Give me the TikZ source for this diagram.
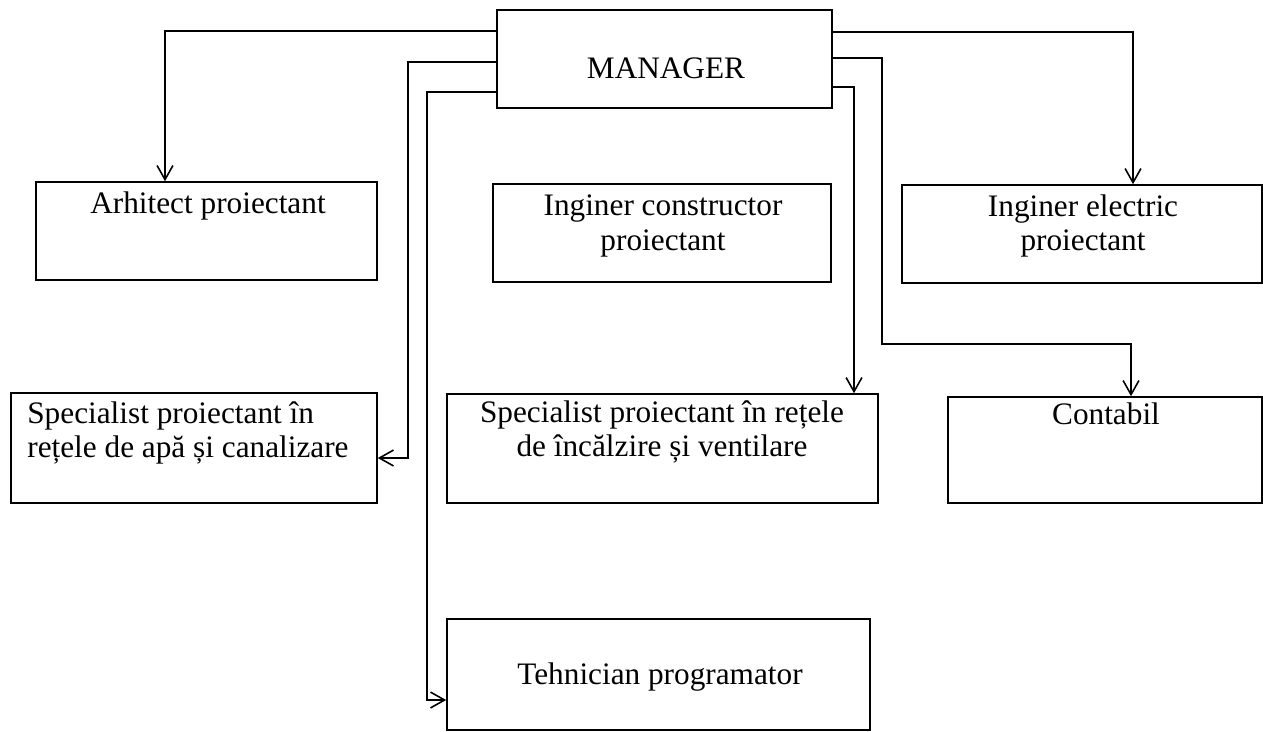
\documentclass[tikz,border=0pt]{standalone}
\usepackage{fontspec}
\setmainfont{Liberation Serif}
\usetikzlibrary{arrows.meta,fit}

\tikzset{
  post/.style={draw, rectangle, inner sep=0pt, line width=0.9pt},
  lbl/.style={inner sep=0pt, align=center, font=\fontsize{17.8}{19.8}\selectfont},
  link/.style={line width=0.9pt, ->},
  >={Straight Barb[length=8pt,width=9pt]}
}

\begin{document}
\begin{tikzpicture}[x=0.02cm, y=-0.02cm]
        \useasboundingbox (0,0) rectangle (1263,731);
        % boxes
        \node[post, fit={(497,10) (832,108)}] (mgr) {};
        \node[post, fit={(36,182) (377,280)}] (arh) {};
        \node[post, fit={(493,184) (831,282)}] (con) {};
        \node[post, fit={(902,185) (1262,283)}] (ele) {};
        \node[post, fit={(11,393) (377,503)}] (apa) {};
        \node[post, fit={(447,394) (878,503)}] (inc) {};
        \node[post, fit={(948,397) (1262,503)}] (cont) {};
        \node[post, fit={(447,619) (870,730)}] (teh) {};
        % texts
        \node[lbl] (mgrT) at (666,68) {MANAGER};
        \node[lbl] (arhT) at (208,206) {Arhitect proiectant};
        \node[lbl] (conT) at (663,226) {Inginer constructor\\proiectant};
        \node[lbl] (eleT) at (1083,226) {Inginer electric\\proiectant};
        \node[lbl, align=left, anchor=west] (apaT) at (27,433) {Specialist proiectant în\\rețele de apă și canalizare};
        \node[lbl] (incT) at (662,432) {Specialist proiectant în rețele\\de încălzire și ventilare};
        \node[lbl] (contT) at (1106,414) {Contabil};
        \node[lbl] (tehT) at (660,677) {Tehnician programator};
        % corners of the connectors
        \coordinate (jA) at (165,31);
        \coordinate (jB) at (408,62);
        \coordinate (jB2) at (408,458);
        \coordinate (jC) at (427,92);
        \coordinate (jC2) at (427,700);
        \coordinate (jD) at (1133,32);
        \coordinate (jE) at (882,58);
        \coordinate (jE2) at (882,344);
        \coordinate (jF) at (1131,344);
        \coordinate (jG) at (854,87);
        % connectors
        \draw[link] (mgr.west |- jA) -- (jA) -- (jA |- arh.north);
        \draw[link] (mgr.west |- jB) -- (jB) -- (jB2) -- (jB2 -| apa.east);
        \draw[link] (mgr.west |- jC) -- (jC) -- (jC2) -- (jC2 -| teh.west);
        \draw[link] (mgr.east |- jD) -- (jD) -- (jD |- ele.north);
        \draw[link] (mgr.east |- jE) -- (jE) -- (jE2) -- (jF) -- (jF |- cont.north);
        \draw[link] (mgr.east |- jG) -- (jG) -- (jG |- inc.north);
    \end{tikzpicture}
\end{document}
